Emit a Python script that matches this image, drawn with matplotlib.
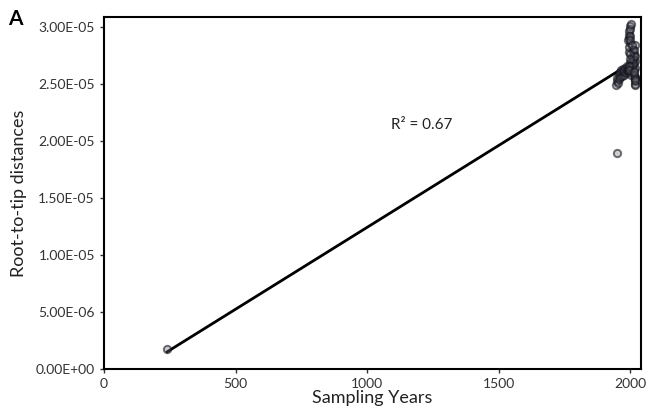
import numpy as np
import matplotlib
matplotlib.use("Agg")
import matplotlib.pyplot as plt

plt.rcParams['font.family'] = ['Lato', 'DejaVu Sans']

# sampling year / root-to-tip distance
years = [240, 1949,
         1945, 1948, 1950, 1952, 1955, 1957, 1960, 1962, 1965, 1967, 1970, 1972,
         1975, 1977, 1980, 1982, 1985, 1987, 1990, 1992, 1994, 1996, 1998, 2000,
         2001, 2003, 2004, 2005, 1993, 2007, 1995, 2009, 1997, 2011, 1996, 2013,
         1994, 2015, 2016, 2017, 1992, 2019, 1995, 2000, 1997, 2010, 2003, 2014,
         2016, 2018, 2003, 1999, 2009, 2011, 2013, 2015, 2017, 2019, 1998, 2004,
         2000, 1998, 1996, 1993, 2016, 2018, 2014, 2019, 2012, 2017]
dist_e5 = [0.175, 1.89,
           2.49, 2.52, 2.55, 2.51, 2.58, 2.54, 2.60, 2.56, 2.62, 2.57, 2.60, 2.63,
           2.58, 2.61, 2.64, 2.59, 2.62, 2.66, 2.60, 2.63, 2.65, 2.61, 2.68, 2.64,
           2.70, 2.62, 2.74, 2.67, 2.78, 2.65, 2.82, 2.71, 2.86, 2.60, 2.90, 2.76,
           2.93, 2.68, 2.84, 2.56, 2.88, 2.64, 2.96, 3.01, 2.98, 2.80, 3.02, 2.74,
           2.70, 2.50, 2.58, 2.92, 2.67, 2.72, 2.62, 2.80, 2.74, 2.55, 2.88, 2.84,
           2.76, 2.72, 2.66, 2.62, 2.52, 2.55, 2.58, 2.49, 2.60, 2.53]
r2_label = "R\u00b2 = 0.67"

x = np.array(years, dtype=float)
y = np.array(dist_e5) * 1e-5

fig = plt.figure(figsize=(6.47, 4.15), dpi=100)
ax = fig.add_axes([0.1607, 0.1108, 0.8300, 0.8482])

slope, icpt = np.polyfit(x, y, 1)
xs = np.array([x.min(), x.max()])
ax.plot(xs, slope * xs + icpt, color='black', lw=2, zorder=2)

ax.scatter(x, y, s=28, facecolors=(0.45, 0.45, 0.48, 0.35),
           edgecolors=(0.08, 0.08, 0.12, 0.6), linewidths=1.4, zorder=3)

ax.text(1207, 2.14e-5, r2_label, fontsize=11, color='#222222', ha='center', va='center')

ax.set_xlim(0, 2040)
ax.set_ylim(0, 3.085e-5)
ax.set_xticks([0, 500, 1000, 1500, 2000])
ticks_y = [0, 5e-6, 1e-5, 1.5e-5, 2e-5, 2.5e-5, 3e-5]
ax.set_yticks(ticks_y)
ax.set_yticklabels(['{:.2E}'.format(v) for v in ticks_y])
ax.tick_params(labelsize=10, labelcolor='#333333', color='#333333', length=3, width=1)

for s in ax.spines.values():
    s.set_linewidth(1.5)
    s.set_color('black')

ax.set_xlabel('Sampling Years', fontsize=13, color='#222222', labelpad=0)
ax.set_ylabel('Root-to-tip distances', fontsize=13, color='#222222', labelpad=6)
fig.text(0.012, 0.955, 'A', fontsize=15, fontweight='bold', ha='left', va='center')

fig.savefig('out.png', dpi=100)
